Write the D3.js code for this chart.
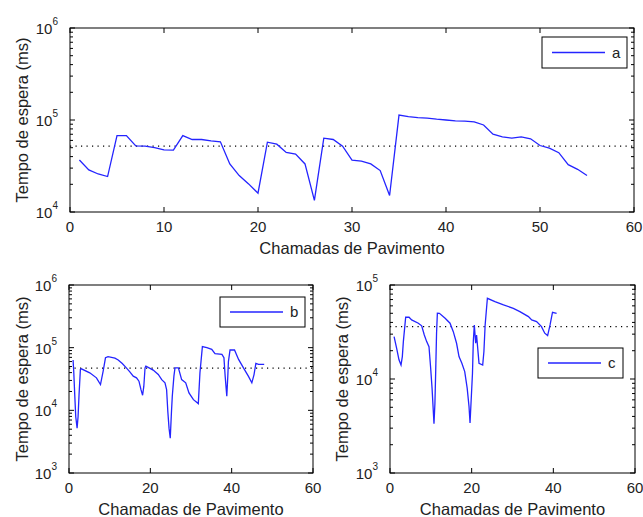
<!DOCTYPE html>
<html><head><meta charset="utf-8">
<script src="https://cdn.jsdelivr.net/npm/d3@7"></script>
<style>body{margin:0;background:#fff}svg{display:block}text{font-family:"Liberation Sans",Arial,sans-serif;fill:#222}</style>
</head><body><svg id="c" width="643" height="517"></svg>
<script>
// ---- data ----
const aX = d3.range(1, 56);
const aY = [36700,28700,25900,24300,67700,67700,52400,52000,50200,47400,47000,67700,61400,61400,59300,57900,33300,24900,20200,16000,
            57400,54600,44400,42600,33300,13400,63400,61400,52000,36700,35800,33300,28200,15100,113000,109000,106000,105000,102000,100000,
            98000,97000,95500,88300,70000,65600,63400,65600,62400,52800,49400,44100,32700,29100,24900];
const aRef = 52000;

const bX = [1,1.16,1.41,1.66,1.99,2.23,2.47,2.8,3.05,5.1,6.75,7.74,8.4,8.97,9.6,11.3,12.1,13.1,14.1,14.96,15.8,16.6,17.2,17.7,18.1,18.4,18.7,18.9,19.7,20.7,21.95,22.8,23.6,24.0,24.3,24.6,24.9,25.2,25.4,25.8,26.06,26.9,27.7,28.7,29.5,30.6,31.8,32.2,32.8,33.9,35.1,35.9,37.6,38.1,38.4,38.8,39.05,39.2,39.6,40.7,41.7,42.9,44.1,44.96,45.5,45.95,46.6,48.0];
const bY = [63500,42300,17800,7900,5200,7900,17800,45000,46000,39700,33000,25800,42300,69000,71800,68000,63500,56000,47700,41200,35100,33000,29200,21400,17400,24300,47700,50800,47700,43900,37300,30900,27500,21400,9600,5200,3600,9600,16800,35100,47700,47700,30900,27500,19000,14800,12800,39800,104000,100000,94000,80000,78200,69000,35100,16800,35100,60000,91800,91800,65000,47700,35100,27500,37200,56000,54000,54000];
const bRef = 47000;

const cX = [1,1.63,2.2,2.7,3.02,3.27,3.84,4.66,5.3,6.94,7.76,8.4,8.98,9.55,9.96,10.3,10.77,11.0,11.2,11.4,11.6,12.1,13.5,14.7,15.5,16.3,16.9,17.6,18.3,18.9,19.35,19.6,20.2,20.4,20.65,20.98,21.2,21.8,22.7,23.0,23.3,23.85,25.7,27.8,30.2,31.8,33.9,34.7,35.9,37.1,37.9,38.6,39.2,39.8,40.8];
const cY = [28300,21200,16000,14100,17300,25000,45400,45400,42500,39200,36800,29400,25000,22100,13000,8000,3340,5500,12500,30700,50100,50000,44300,39200,31900,24000,17300,14700,12000,8000,5100,3400,11500,25000,37600,24000,29400,14700,14100,19600,37600,72200,66500,61400,56500,52100,46100,42500,40800,36100,30700,29000,37600,51300,50000];
const cRef = 36100;

const xTicksTop = [0,10,20,30,40,50,60];
const xTicksBot = [0,20,40,60];
const xLabel = "Chamadas de Pavimento";
const yLabel = "Tempo de espera (ms)";

const svg = d3.select("#c");
const lineColor = "#2424ff";
const tickFont = 15, labelFont = 16.5;

function panel(o){
  const g = svg.append("g");
  const x = d3.scaleLinear().domain([0,60]).range([o.l, o.r]);
  const y = d3.scaleLog().domain(o.yDom).range([o.b, o.t]);
  g.append("rect").attr("x",o.l).attr("y",o.t).attr("width",o.r-o.l).attr("height",o.b-o.t)
    .attr("fill","#fff").attr("stroke","#000").attr("stroke-width",1);
  o.xTicks.forEach(v=>{
    g.append("line").attr("x1",x(v)).attr("x2",x(v)).attr("y1",o.b).attr("y2",o.b-5).attr("stroke","#000");
    g.append("line").attr("x1",x(v)).attr("x2",x(v)).attr("y1",o.t).attr("y2",o.t+5).attr("stroke","#000");
    g.append("text").attr("x",x(v)).attr("y",o.b+20).attr("text-anchor","middle").attr("font-size",tickFont).text(v);
  });
  const e0 = Math.round(Math.log10(o.yDom[0])), e1 = Math.round(Math.log10(o.yDom[1]));
  for(let e=e0;e<=e1;e++){
    for(let m=1;m<=9;m++){
      const v = m*Math.pow(10,e);
      if(v>o.yDom[1]+1e-9) break;
      const len = m===1?5:3;
      g.append("line").attr("x1",o.l).attr("x2",o.l+len).attr("y1",y(v)).attr("y2",y(v)).attr("stroke","#000");
      g.append("line").attr("x1",o.r).attr("x2",o.r-len).attr("y1",y(v)).attr("y2",y(v)).attr("stroke","#000");
    }
    const t = g.append("text").attr("x",o.l-12).attr("y",y(Math.pow(10,e))+6).attr("text-anchor","end").attr("font-size",tickFont);
    t.append("tspan").text("10");
    t.append("tspan").attr("dy",-9).attr("font-size",10).text(e);
  }
  g.append("line").attr("x1",o.l).attr("x2",o.r).attr("y1",y(o.ref)).attr("y2",y(o.ref))
    .attr("stroke","#000").attr("stroke-width",1.2).attr("stroke-dasharray","1.2,4.3");
  const data = o.xs.map((d,i)=>[d,o.ys[i]]);
  g.append("path").attr("d",d3.line().x(d=>x(d[0])).y(d=>y(d[1]))(data))
    .attr("fill","none").attr("stroke",lineColor).attr("stroke-width",1.3);
  g.append("text").attr("x",(o.l+o.r)/2).attr("y",o.b+42).attr("text-anchor","middle").attr("font-size",labelFont).text(xLabel);
  g.append("text").attr("transform",`translate(${o.yl},${(o.t+o.b)/2}) rotate(-90)`).attr("text-anchor","middle").attr("font-size",labelFont).text(yLabel);
  const L = o.leg;
  g.append("rect").attr("x",L.x).attr("y",L.y).attr("width",L.w).attr("height",L.h).attr("fill","#fff").attr("stroke","#000");
  g.append("line").attr("x1",L.x+10).attr("x2",L.x+63).attr("y1",L.y+L.h/2).attr("y2",L.y+L.h/2).attr("stroke",lineColor).attr("stroke-width",1.3);
  g.append("text").attr("x",L.x+70).attr("y",L.y+L.h/2+5).attr("font-size",tickFont).text(o.name);
}

panel({l:70,r:634,t:28,b:212,yDom:[1e4,1e6],xTicks:xTicksTop,xs:aX,ys:aY,ref:aRef,yl:28,name:"a",
       leg:{x:542,y:37,w:85,h:31}});
panel({l:69,r:313,t:285,b:473,yDom:[1e3,1e6],xTicks:xTicksBot,xs:bX,ys:bY,ref:bRef,yl:28,name:"b",
       leg:{x:220,y:297,w:85,h:30}});
panel({l:390,r:635,t:285,b:473,yDom:[1e3,1e5],xTicks:xTicksBot,xs:cX,ys:cY,ref:cRef,yl:348,name:"c",
       leg:{x:538,y:348,w:85,h:30}});
</script></body></html>
